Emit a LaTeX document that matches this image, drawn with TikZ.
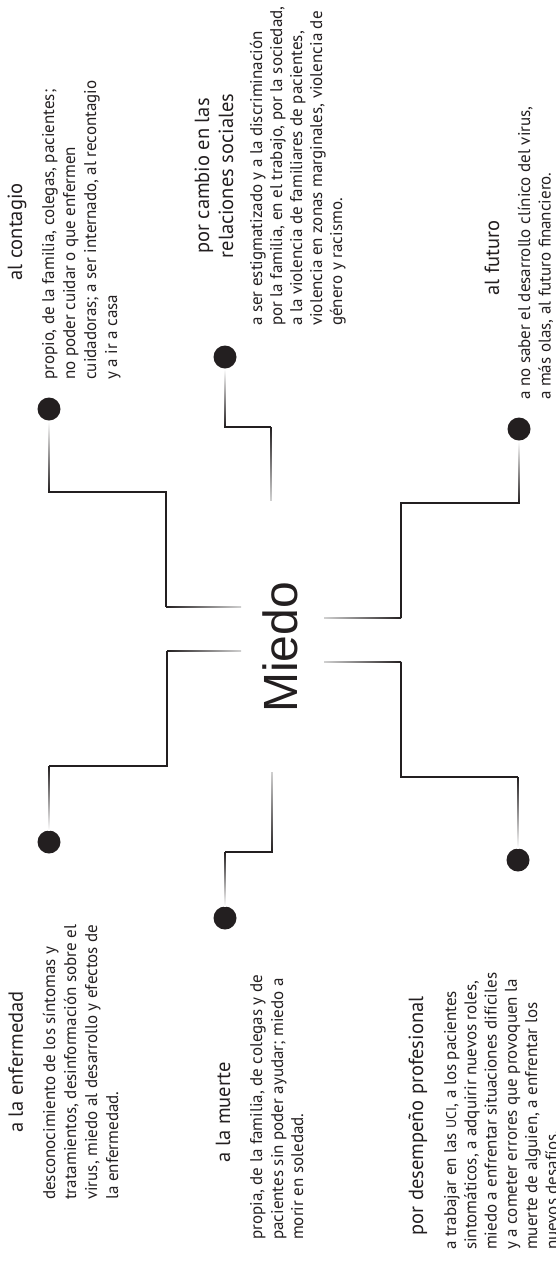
\documentclass[tikz,border=0pt]{standalone}
\usepackage{fontspec}
\setmainfont{PT Sans}
\newfontfamily\miedofont{Liberation Sans}
\usetikzlibrary{calc}
\definecolor{ink}{HTML}{231F20}
\definecolor{pale}{HTML}{D0D0D0}
\tikzset{
  body/.style={rotate=90, anchor=base west, inner sep=0pt, text=ink, font=\fontsize{17}{20}\selectfont},
  head/.style={rotate=90, anchor=base, inner sep=0pt, text=ink, font=\fontsize{20.5}{24}\selectfont},
  dot/.style={circle, fill=ink, minimum size=23pt, inner sep=0pt},
  conn/.style={draw=ink, line width=1.6pt, line join=miter},
}
\newcommand{\vfd}[4]{\shade[top color=#3, bottom color=#4] ($(#1)+(-0.8,0)$) rectangle ($(#2)+(0.8,0)$);}
\newcommand{\hfd}[4]{\shade[left color=#3, right color=#4] ($(#1)+(0,-0.8)$) rectangle ($(#2)+(0,0.8)$);}
\begin{document}
\begin{tikzpicture}[x=1pt,y=-1pt]
\useasboundingbox (0,0) rectangle (555,1261);

% centre
\node[rotate=90, anchor=base, inner sep=0pt, text=ink, font=\miedofont\fontsize{48}{48}\selectfont] (miedo) at (297,647.5) {Miedo};

% dots
\node[dot] (dA) at (49,409) {};
\node[dot] (dB) at (225,357) {};
\node[dot] (dC) at (519,429) {};
\node[dot] (dD) at (49,842) {};
\node[dot] (dE) at (225,918) {};
\node[dot] (dF) at (518,860) {};

% connector A
\coordinate (a0) at (49,421);
\coordinate (a1) at (49,492);
\coordinate (a2) at (166,492);
\coordinate (a3) at (166,607);
\coordinate (a4) at (241,607);
\vfd{a0}{a1}{white}{ink}
\draw[conn] (a1) -- (a2) -- (a3);
\hfd{a3}{a4}{ink}{pale}

% connector B
\coordinate (b0) at (225,369);
\coordinate (b1) at (225,427);
\coordinate (b2) at (271,427);
\coordinate (b3) at (271,500);
\vfd{b0}{b1}{white}{ink}
\draw[conn] (b1) -- (b2);
\vfd{b2}{b3}{ink}{pale}

% connector C
\coordinate (c0) at (519,441);
\coordinate (c1) at (519,503);
\coordinate (c2) at (401,503);
\coordinate (c3) at (401,618);
\coordinate (c4) at (324,618);
\vfd{c0}{c1}{white}{ink}
\draw[conn] (c1) -- (c2) -- (c3);
\hfd{c4}{c3}{pale}{ink}

% connector D
\coordinate (d4) at (241,651);
\coordinate (d3) at (167,651);
\coordinate (d2) at (167,766);
\coordinate (d1) at (49,766);
\coordinate (d0) at (49,830);
\hfd{d3}{d4}{ink}{pale}
\draw[conn] (d3) -- (d2) -- (d1);
\vfd{d1}{d0}{ink}{white}

% connector E
\coordinate (e3) at (272,772);
\coordinate (e2) at (272,852);
\coordinate (e1) at (225,852);
\coordinate (e0) at (225,906);
\vfd{e3}{e2}{pale}{ink}
\draw[conn] (e2) -- (e1);
\vfd{e1}{e0}{ink}{white}

% connector F
\coordinate (f4) at (324,662);
\coordinate (f3) at (401,662);
\coordinate (f2) at (401,777);
\coordinate (f1) at (518,777);
\coordinate (f0) at (518,848);
\hfd{f4}{f3}{pale}{ink}
\draw[conn] (f3) -- (f2) -- (f1);
\vfd{f1}{f0}{ink}{white}

% group A: al contagio
\node[head] (hA) at (22,232) {al contagio};
\node[body] (A1) at (54,380) {propio, de la familia, colegas, pacientes;};
\node[body] (A2) at (75,380) {no poder cuidar o que enfermen};
\node[body] (A3) at (96,380) {cuidadoras; a ser internado, al recontagio};
\node[body] (A4) at (117,380) {y a ir a casa};

% group B: relaciones sociales
\node[head] (hB1) at (209,176) {por cambio en las};
\node[head] (hB2) at (233,176) {relaciones sociales};
\node[body] (B1) at (262,326) {a ser estigmatizado y a la discriminación};
\node[body] (B2) at (282,326) {por la familia, en el trabajo, por la sociedad,};
\node[body] (B3) at (302,326) {a la violencia de familiares de pacientes,};
\node[body] (B4) at (322,326) {violencia en zonas marginales, violencia de};
\node[body] (B5) at (342,326) {género y racismo.};

% group C: al futuro
\node[head] (hC) at (499,258) {al futuro};
\node[body] (C1) at (530,400) {a no saber el desarrollo clínico del virus,};
\node[body] (C2) at (550.5,400) {a más olas, al futuro financiero.};

% group D: a la enfermedad
\node[head] (hD) at (23,1062) {a la enfermedad};
\node[body] (D1) at (55,1200) {desconocimiento de los síntomas y};
\node[body] (D2) at (76,1200) {tratamientos, desinformación sobre el};
\node[body] (D3) at (97,1200) {virus, miedo al desarrollo y efectos de};
\node[body] (D4) at (118,1200) {la enfermedad.};

% group E: a la muerte
\node[head] (hE) at (230,1112) {a la muerte};
\node[body] (E1) at (262,1240) {propia, de la familia, de colegas y de};
\node[body] (E2) at (283,1240) {pacientes sin poder ayudar; miedo a};
\node[body] (E3) at (303,1240) {morir en soledad.};

% group F: por desempeño profesional
\node[head] (hF) at (423,1116) {por desempeño profesional};
\node[body] (F1) at (456,1250) {a trabajar en las {\fontsize{14}{20}\selectfont UCI}, a los pacientes};
\node[body] (F2) at (476.3,1250) {sintomáticos, a adquirir nuevos roles,};
\node[body] (F3) at (496.6,1250) {miedo a enfrentar situaciones difíciles};
\node[body] (F4) at (516.9,1250) {y a cometer errores que provoquen la};
\node[body] (F5) at (537.2,1250) {muerte de alguien, a enfrentar los};
\node[body] (F6) at (557.5,1250) {nuevos desafíos.};
\end{tikzpicture}
\end{document}
